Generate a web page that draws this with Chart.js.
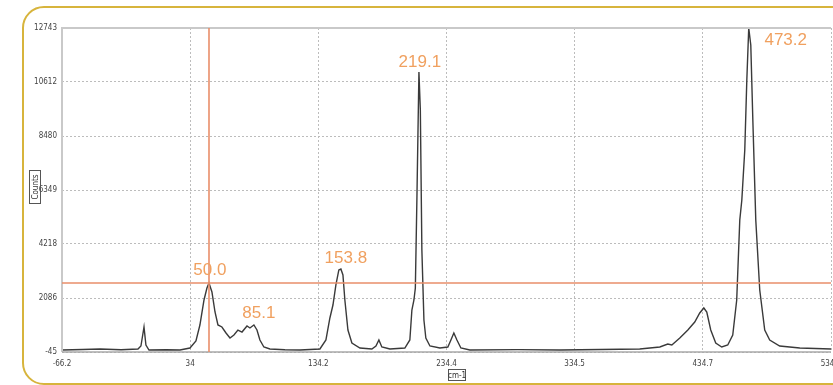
<!DOCTYPE html>
<html>
<head>
<meta charset="utf-8">
<script src="https://cdn.jsdelivr.net/npm/chart.js@4.4.1/dist/chart.umd.min.js"></script>
<style>
  html, body { margin: 0; padding: 0; background: #fff; overflow: hidden; width: 833px; height: 385px; }
  #frame {
    position: absolute; left: 22px; top: 6px; width: 830px; height: 375px;
    border: 2px solid #d7b43c; border-radius: 22px;
  }
  #wrap { position: absolute; left: 0; top: 0; width: 880px; height: 385px; }
</style>
</head>
<body>
<div id="frame"></div>
<div id="wrap"><canvas id="spectrum"></canvas></div>
<script>
// Raman shift (cm-1) and counts
const shiftCm = [
  -66.2, -50, -36.5, -20, -6.8, -4.5, -2.1, -0.6, 1.8, 15,
  26.0, 33.8, 38.5, 41.6, 44.8, 47.1, 48.7, 51.0, 53.4, 55.7,
  58.8, 62.0, 65.1, 68.2, 71.3, 74.5, 78.4, 80.7, 83.8, 86.2,
  88.5, 91.6, 96.3, 108, 119.8, 135.4, 140.1, 143.2, 145.6, 147.9,
  150.2, 151.8, 153.4, 154.9, 157.3, 160.4, 166.7, 176.0, 179.2, 181.5,
  183.8, 190.1, 201.8, 205.7, 207.3, 208.9, 210.0, 211.2, 212.8, 213.9,
  215.1, 216.7, 218.2, 221.4, 229.2, 235.4, 237.8, 240.1, 242.5, 245.6,
  252.6, 290, 322.9, 355, 385.4, 401.1, 407.3, 410.5, 416.7, 423.0,
  428.4, 432.3, 435.5, 437.8, 440.9, 444.8, 449.5, 454.2, 458.1, 461.2,
  463.6, 465.2, 467.5, 469.1, 470.6, 472.2, 473.8, 476.1, 479.2, 483.1,
  487.0, 494.8, 510.5, 536.3
];
const counts = [
  34, 55, 73, 45, 73, 192, 942, 231, 34, 45,
  34, 113, 389, 1021, 2007, 2481, 2678, 2323, 1534, 1021,
  942, 705, 508, 626, 823, 744, 981, 902, 1021, 823,
  429, 152, 73, 45, 34, 73, 429, 1297, 1810, 2600,
  3192, 3231, 2994, 2007, 823, 310, 113, 73, 192, 429,
  152, 73, 113, 429, 1613, 2007, 2481, 5954, 11007, 9507,
  3981, 1218, 508, 192, 113, 152, 429, 705, 429, 113,
  34, 50, 34, 55, 73, 152, 271, 231, 508, 823,
  1139, 1494, 1692, 1534, 823, 310, 152, 231, 626, 2007,
  5165, 5954, 7928, 10691, 12743, 12072, 9112, 5165, 2402, 823,
  429, 192, 113, 73
];

// axis ticks
const xTicks = [-66.2, 34, 134.2, 234.4, 334.5, 434.7, 534.9];
const xTickLabels = ["-66.2", "34", "134.2", "234.4", "334.5", "434.7", "534.9"];
const yTicks = [-45, 2086, 4218, 6349, 8480, 10612, 12743];

// peak labels (text + anchor in data units)
const peakText = ["50.0", "85.1", "153.8", "219.1", "473.2"];
const peakX = [49.4, 87.7, 155.7, 213.5, 499.5];
const peakY = [3192, 1494, 3665, 11401, 12270];

// cursor cross position
const cursorX = 48.7;
const cursorY = 2678;

const ORANGE_LINE = "#e98f6b";
const ORANGE_TEXT = "#f0a05f";
const tickFont = { family: "'Liberation Sans Narrow', 'DejaVu Sans Condensed', sans-serif", size: 8 };

const overlay = {
  id: "overlay",
  afterDatasetsDraw(chart) {
    const { ctx, chartArea: a, scales: { x, y } } = chart;
    ctx.save();
    // frame
    ctx.strokeStyle = "#c9c9c9";
    ctx.lineWidth = 2;
    ctx.beginPath();
    ctx.moveTo(a.left, a.bottom);
    ctx.lineTo(a.left, a.top);
    ctx.lineTo(a.right, a.top);
    ctx.stroke();
    ctx.strokeStyle = "#a8a8a8";
    ctx.lineWidth = 1.5;
    ctx.beginPath();
    ctx.moveTo(a.left, a.bottom);
    ctx.lineTo(a.right, a.bottom);
    ctx.stroke();

    // cursor lines
    ctx.strokeStyle = ORANGE_LINE;
    ctx.lineWidth = 1.6;
    const cx = x.getPixelForValue(cursorX);
    const cy = y.getPixelForValue(cursorY);
    ctx.beginPath();
    ctx.moveTo(cx, a.top);
    ctx.lineTo(cx, a.bottom);
    ctx.moveTo(a.left, cy);
    ctx.lineTo(a.right, cy);
    ctx.stroke();

    // peak labels
    ctx.fillStyle = ORANGE_TEXT;
    ctx.font = "17px 'Liberation Sans', Arial, sans-serif";
    ctx.textAlign = "center";
    ctx.textBaseline = "middle";
    peakText.forEach((t, i) => {
      ctx.fillText(t, x.getPixelForValue(peakX[i]), y.getPixelForValue(peakY[i]));
    });

    // boxed axis titles
    ctx.fillStyle = "#333";
    ctx.strokeStyle = "#555";
    ctx.lineWidth = 1;
    ctx.font = "8px 'Liberation Sans Narrow', 'DejaVu Sans Condensed', sans-serif";
    ctx.strokeRect(448.5, 369.5, 17, 11);
    ctx.fillText("cm-1", 457, 375.5);

    ctx.save();
    ctx.translate(35, 187);
    ctx.rotate(-Math.PI / 2);
    ctx.strokeRect(-16.5, -5.5, 33, 11);
    ctx.fillText("Counts", 0, 0.5);
    ctx.restore();

    ctx.restore();
  }
};

new Chart(document.getElementById("spectrum"), {
  type: "scatter",
  data: {
    datasets: [{
      data: shiftCm.map((v, i) => ({ x: v, y: counts[i] })),
      showLine: true,
      borderColor: "#3a3a3a",
      borderWidth: 1.4,
      pointRadius: 0,
      tension: 0
    }]
  },
  options: {
    responsive: true,
    maintainAspectRatio: false,
    animation: false,
    layout: { padding: { left: 0, top: 28, right: 49, bottom: 0 } },
    plugins: { legend: { display: false }, tooltip: { enabled: false } },
    scales: {
      x: {
        type: "linear",
        min: -66.2,
        max: 534.9,
        afterBuildTicks: (s) => { s.ticks = xTicks.map((v) => ({ value: v })); },
        afterFit: (s) => { s.height = 33; },
        ticks: {
          font: tickFont,
          color: "#444",
          padding: 7,
          maxRotation: 0,
          autoSkip: false,
          callback: (v, i) => xTickLabels[i]
        },
        grid: { color: "#bcbcbc", lineWidth: 1, drawTicks: false },
        border: { display: false, dash: [2, 2] }
      },
      y: {
        type: "linear",
        min: -45,
        max: 12743,
        afterBuildTicks: (s) => { s.ticks = yTicks.map((v) => ({ value: v })); },
        afterFit: (s) => { s.width = 62; },
        ticks: {
          font: tickFont,
          color: "#444",
          padding: 5,
          autoSkip: false,
          callback: (v) => String(v)
        },
        grid: { color: "#bcbcbc", lineWidth: 1, drawTicks: false },
        border: { display: false, dash: [2, 2] }
      }
    }
  },
  plugins: [overlay]
});
</script>
</body>
</html>
